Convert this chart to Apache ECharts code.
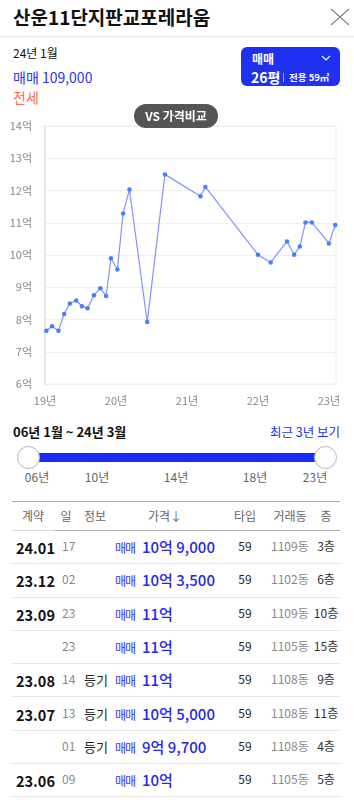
<!DOCTYPE html>
<html>
<head>
<meta charset="utf-8">
<script src="https://cdn.jsdelivr.net/npm/echarts@6/dist/echarts.min.js"></script>
<style>
body{margin:0;width:354px;height:805px;background:#fff;font-family:"Noto Sans CJK KR","Noto Sans",sans-serif;position:relative;overflow:hidden;color:#111}
.abs{position:absolute;white-space:nowrap}
#myChart{position:absolute;left:0;top:110px;width:354px;height:305px}
.row{position:absolute;left:12px;width:328px;border-bottom:1px solid #e6e6e6}
.row span{position:absolute;top:0;white-space:nowrap}
</style>
</head>
<body>
<div class="abs" style="left:13px;top:3px;font-size:19px;font-weight:700;line-height:28px">산운11단지판교포레라움</div>
<svg class="abs" style="left:329px;top:7px" width="22" height="20"><path d="M2 2L20 18M20 2L2 18" stroke="#888" stroke-width="1.4" fill="none"/></svg>
<div class="abs" style="left:0;top:36px;width:354px;height:1px;background:#ececec"></div>

<div class="abs" style="left:13px;top:45px;font-size:12px;line-height:16px">24년 1월</div>
<div class="abs" style="left:13px;top:67px;font-size:14px;line-height:20px;color:#3333ee">매매 109,000</div>
<div class="abs" style="left:13px;top:87px;font-size:14px;line-height:20px;color:#ff6b4f">전세</div>

<div class="abs" style="left:241px;top:47px;width:99px;height:39px;background:#1f30f0;border-radius:6px;color:#fff">
  <div class="abs" style="left:11px;top:3px;font-size:12px;font-weight:700;line-height:18px">매매</div>
  <svg class="abs" style="left:80px;top:8px" width="10" height="7"><path d="M1 1L5 5L9 1" stroke="#fff" stroke-width="1.2" fill="none"/></svg>
  <div class="abs" style="left:10px;top:21px;font-size:14px;font-weight:700;line-height:18px">26평</div>
  <div class="abs" style="left:42px;top:26px;width:1px;height:9px;background:#aab"></div>
  <div class="abs" style="left:48px;top:23px;font-size:9.5px;font-weight:700;line-height:14px">전용 59㎡</div>
</div>

<div id="myChart"></div>
<div class="abs" style="left:134px;top:104px;width:84px;height:24px;border-radius:12px;background:#555;color:#fff;font-size:12px;font-weight:700;line-height:24px;text-align:center;z-index:5">VS 가격비교</div>

<div class="abs" style="left:13px;top:423px;font-size:13px;font-weight:700;line-height:18px">06년 1월 ~ 24년 3월</div>
<div class="abs" style="right:14px;top:423px;font-size:12.5px;line-height:18px;color:#2233ee">최근 3년 보기</div>
<div class="abs" style="left:28px;top:453px;width:297px;height:9px;background:#1b2df5"></div>
<div class="abs" style="left:17px;top:446px;width:21px;height:21px;border-radius:50%;background:#fff;border:1px solid #b5b5b5"></div>
<div class="abs" style="left:314px;top:446px;width:21px;height:21px;border-radius:50%;background:#fff;border:1px solid #b5b5b5"></div>
<div id="sliderTicks"></div>

<div class="abs" style="left:12px;top:501px;width:328px;height:1px;background:#a8a8a8"></div>
<div id="tableHead"></div>
<div class="abs" style="left:12px;top:530px;width:43px;height:1px;background:#dcdcdc"></div>
<div class="abs" style="left:55px;top:530px;width:285px;height:1px;background:#aaa"></div>
<div id="tableBody"></div>

<script type="text/javascript">
// 시세 차트 데이터 (x: 축 라벨 기준 연도 위치, y: 억)
var xPos = [19.02, 19.10, 19.19, 19.27, 19.35, 19.44, 19.52, 19.60, 19.69, 19.78, 19.86, 19.93,
            20.02, 20.10, 20.19, 20.44, 20.69, 21.19, 21.26, 22.00, 22.18, 22.41, 22.51, 22.59,
            22.67, 22.76, 23.00, 23.09];
var prices = [7.65, 7.79, 7.65, 8.17, 8.50, 8.59, 8.41, 8.35, 8.75, 8.97, 8.73, 9.90,
              9.55, 11.29, 12.03, 7.92, 12.50, 11.82, 12.11, 10.01, 9.77, 10.42, 10.01, 10.26,
              11.01, 11.01, 10.36, 10.93];
var yTicks = [6, 7, 8, 9, 10, 11, 12, 13, 14];
var xYears = [19, 20, 21, 22, 23];

// 기간 슬라이더 라벨
var sliderLabels = ['06년', '10년', '14년', '18년', '23년'];
var sliderLabelX = [37, 97, 176, 255, 315];

// 실거래 목록
var headers = ['계약', '일', '정보', '가격↓', '타입', '거래동', '층'];
var headerX = [33, 66, 95, 165, 245, 290, 326];
var contractMonth = ['24.01', '23.12', '23.09', '', '23.08', '23.07', '', '23.06'];
var contractDay = ['17', '02', '23', '23', '14', '13', '01', '09'];
var info = ['', '', '', '', '등기', '등기', '등기', ''];
var dealType = ['매매', '매매', '매매', '매매', '매매', '매매', '매매', '매매'];
var dealPrice = ['10억 9,000', '10억 3,500', '11억', '11억', '11억', '10억 5,000', '9억 9,700', '10억'];
var areaType = ['59', '59', '59', '59', '59', '59', '59', '59'];
var building = ['1109동', '1102동', '1109동', '1105동', '1108동', '1108동', '1108동', '1105동'];
var floor = ['3층', '6층', '10층', '15층', '9층', '11층', '4층', '5층'];

var html = '';
sliderLabels.forEach(function (t, i) {
  html += '<div class="abs" style="left:' + (sliderLabelX[i] - 15) + 'px;width:30px;text-align:center;top:469px;font-size:12px;line-height:16px;color:#666">' + t + '</div>';
});
document.getElementById('sliderTicks').innerHTML = html;

html = '';
headers.forEach(function (t, i) {
  html += '<div class="abs" style="left:' + (headerX[i] - 25) + 'px;width:50px;text-align:center;top:507px;font-size:12px;line-height:18px;color:#666">' + t + '</div>';
});
document.getElementById('tableHead').innerHTML = html;

html = '';
var rowTop = 531, rowH = 33.3;
for (var i = 0; i < dealPrice.length; i++) {
  var rowY = rowTop + i * rowH;
  html += '<div class="row" style="top:' + rowY.toFixed(1) + 'px;height:' + (rowH - 1).toFixed(1) + 'px">' +
    '<span style="left:4px;top:7px;font-size:14.5px;font-weight:700;line-height:20px">' + contractMonth[i] + '</span>' +
    '<span style="left:50px;top:6px;font-size:12px;line-height:18px;color:#888">' + contractDay[i] + '</span>' +
    '<span style="left:72px;top:6px;font-size:13px;line-height:20px;color:#222">' + info[i] + '</span>' +
    '<span style="left:103px;top:7px;font-size:12px;line-height:20px;color:#3333ee;letter-spacing:-1px">' + dealType[i] + '</span>' +
    '<span style="left:130px;top:5px;font-size:15px;font-weight:500;line-height:22px;color:#2626e8">' + dealPrice[i] + '</span>' +
    '<span style="left:221px;width:24px;text-align:center;top:6px;font-size:12px;line-height:18px;color:#222">' + areaType[i] + '</span>' +
    '<span style="left:259px;top:6px;font-size:12px;line-height:18px;color:#888">' + building[i] + '</span>' +
    '<span style="left:300px;width:28px;text-align:center;top:6px;font-size:12px;line-height:18px;color:#333">' + floor[i] + '</span>' +
    '</div>';
}
document.getElementById('tableBody').innerHTML = html;

// 차트 생성
var option = {
  animation: false,
  grid: { left: 45, right: 18, top: 16, bottom: 31, show: true, borderColor: '#eeeeee', borderWidth: 1 },
  xAxis: {
    type: 'value',
    min: xYears[0],
    max: 23.1,
    interval: 1,
    axisLine: { show: false },
    axisTick: { show: false },
    splitLine: { show: false },
    axisLabel: {
      margin: 11,
      fontSize: 11,
      color: '#888',
      fontFamily: 'Noto Sans CJK KR',
      formatter: function (v) { return xYears.indexOf(v) >= 0 ? v + '년' : ''; }
    }
  },
  yAxis: {
    type: 'value',
    min: yTicks[0],
    max: yTicks[yTicks.length - 1],
    interval: 1,
    axisLine: { show: true, lineStyle: { color: '#e6e6e6', width: 2 } },
    axisTick: { show: false },
    splitLine: { lineStyle: { color: '#eeeeee' } },
    axisLabel: {
      margin: 13,
      fontSize: 11,
      color: '#888',
      fontFamily: 'Noto Sans CJK KR',
      formatter: function (v) { return v + '억'; }
    }
  },
  series: [{
    type: 'line',
    data: xPos.map(function (x, i) { return [x, prices[i]]; }),
    symbol: 'circle',
    symbolSize: 4.5,
    lineStyle: { color: '#8591ff', width: 1.2 },
    itemStyle: { color: '#3f82ff' }
  }]
};
echarts.init(document.getElementById('myChart')).setOption(option);
</script>
</body>
</html>
